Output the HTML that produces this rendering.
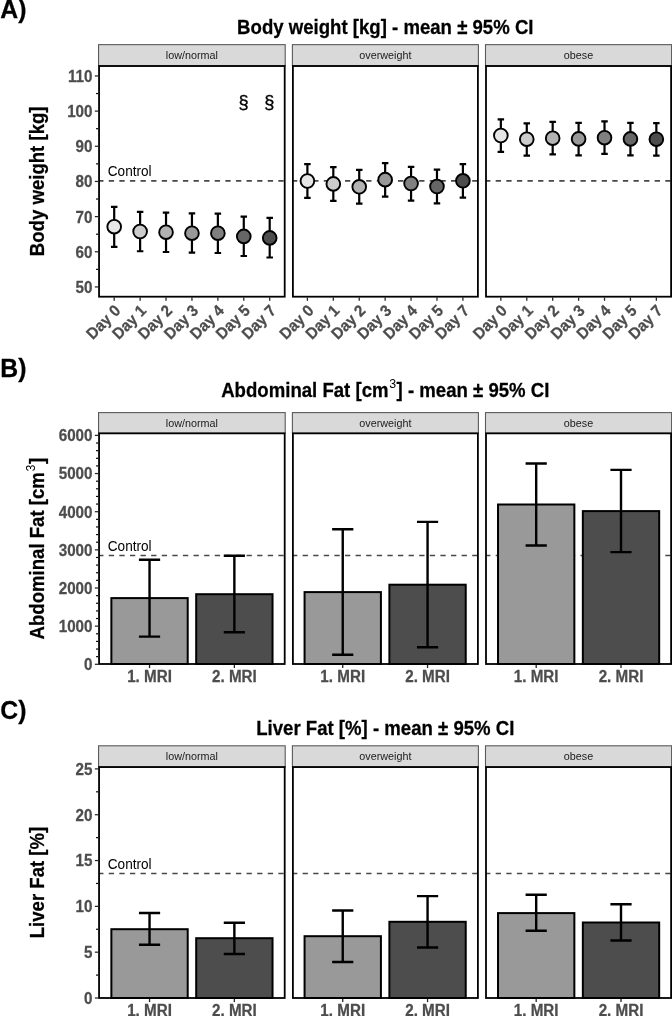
<!DOCTYPE html><html><head><meta charset="utf-8"><title>plot</title><style>html,body{margin:0;padding:0;background:#fff;overflow:hidden;}svg{display:block;font-family:"Liberation Sans", sans-serif;filter:grayscale(1);}</style></head><body>
<svg width="672" height="1016" viewBox="0 0 672 1016">
<rect width="672" height="1016" fill="#fff"/>
<text transform="translate(0.3 17.5) scale(1 1.04)" font-size="24.8" font-weight="bold" stroke="#000" stroke-width="0.25" fill="#000">A)</text>
<text transform="translate(385.3 33.5) scale(1 1.04)" font-size="18.6" font-weight="bold" stroke="#000" stroke-width="0.25" fill="#000" text-anchor="middle">Body weight [kg] - mean ± 95% CI</text>
<text transform="translate(44.3 181.35) rotate(-90) scale(1 1.04)" font-size="18.6" font-weight="bold" stroke="#000" stroke-width="0.25" fill="#000" text-anchor="middle">Body weight [kg]</text>
<rect x="98.55" y="44.65" width="186.65" height="21.35" fill="#d9d9d9" stroke="#5a5a5a" stroke-width="1.1"/>
<text transform="translate(191.88 59.05) scale(1 1.04)" font-size="10.8" fill="#1a1a1a" text-anchor="middle">low/normal</text>
<rect x="292.4" y="44.65" width="186" height="21.35" fill="#d9d9d9" stroke="#5a5a5a" stroke-width="1.1"/>
<text transform="translate(385.4 59.05) scale(1 1.04)" font-size="10.8" fill="#1a1a1a" text-anchor="middle">overweight</text>
<rect x="485.5" y="44.65" width="186.1" height="21.35" fill="#d9d9d9" stroke="#5a5a5a" stroke-width="1.1"/>
<text transform="translate(578.55 59.05) scale(1 1.04)" font-size="10.8" fill="#1a1a1a" text-anchor="middle">obese</text>
<line x1="99.05" y1="180.9" x2="284.7" y2="180.9" stroke="#484848" stroke-width="1.6" stroke-dasharray="5.3 5.3" stroke-dashoffset="0.9"/>
<line x1="292.9" y1="180.9" x2="477.9" y2="180.9" stroke="#484848" stroke-width="1.6" stroke-dasharray="5.3 5.3" stroke-dashoffset="0.9"/>
<line x1="486" y1="180.9" x2="671.1" y2="180.9" stroke="#484848" stroke-width="1.6" stroke-dasharray="5.3 5.3" stroke-dashoffset="0.9"/>
<text transform="translate(107.8 176.2) scale(1 1.04)" font-size="13.6" fill="#000">Control</text>
<line x1="94.85" y1="286.95" x2="98.15" y2="286.95" stroke="#262626" stroke-width="1.25"/>
<text transform="translate(92.5 292.85) scale(1 1.04)" font-size="15.2" font-weight="bold" stroke="#4d4d4d" stroke-width="0.25" fill="#4d4d4d" text-anchor="end">50</text>
<line x1="94.85" y1="251.79" x2="98.15" y2="251.79" stroke="#262626" stroke-width="1.25"/>
<text transform="translate(92.5 257.69) scale(1 1.04)" font-size="15.2" font-weight="bold" stroke="#4d4d4d" stroke-width="0.25" fill="#4d4d4d" text-anchor="end">60</text>
<line x1="94.85" y1="216.62" x2="98.15" y2="216.62" stroke="#262626" stroke-width="1.25"/>
<text transform="translate(92.5 222.52) scale(1 1.04)" font-size="15.2" font-weight="bold" stroke="#4d4d4d" stroke-width="0.25" fill="#4d4d4d" text-anchor="end">70</text>
<line x1="94.85" y1="181.45" x2="98.15" y2="181.45" stroke="#262626" stroke-width="1.25"/>
<text transform="translate(92.5 187.35) scale(1 1.04)" font-size="15.2" font-weight="bold" stroke="#4d4d4d" stroke-width="0.25" fill="#4d4d4d" text-anchor="end">80</text>
<line x1="94.85" y1="146.28" x2="98.15" y2="146.28" stroke="#262626" stroke-width="1.25"/>
<text transform="translate(92.5 152.18) scale(1 1.04)" font-size="15.2" font-weight="bold" stroke="#4d4d4d" stroke-width="0.25" fill="#4d4d4d" text-anchor="end">90</text>
<line x1="94.85" y1="111.12" x2="98.15" y2="111.12" stroke="#262626" stroke-width="1.25"/>
<text transform="translate(92.5 117.02) scale(1 1.04)" font-size="15.2" font-weight="bold" stroke="#4d4d4d" stroke-width="0.25" fill="#4d4d4d" text-anchor="end">100</text>
<line x1="94.85" y1="75.95" x2="98.15" y2="75.95" stroke="#262626" stroke-width="1.25"/>
<text transform="translate(92.5 81.85) scale(1 1.04)" font-size="15.2" font-weight="bold" stroke="#4d4d4d" stroke-width="0.25" fill="#4d4d4d" text-anchor="end">110</text>
<line x1="96.05" y1="269.37" x2="98.15" y2="269.37" stroke="#000" stroke-width="1.2"/>
<line x1="96.05" y1="234.2" x2="98.15" y2="234.2" stroke="#000" stroke-width="1.2"/>
<line x1="96.05" y1="199.03" x2="98.15" y2="199.03" stroke="#000" stroke-width="1.2"/>
<line x1="96.05" y1="163.87" x2="98.15" y2="163.87" stroke="#000" stroke-width="1.2"/>
<line x1="96.05" y1="128.7" x2="98.15" y2="128.7" stroke="#000" stroke-width="1.2"/>
<line x1="96.05" y1="93.53" x2="98.15" y2="93.53" stroke="#000" stroke-width="1.2"/>
<path d="M114.2 206.9V246.8M110.96 206.9H117.44M110.96 246.8H117.44" stroke="#000" stroke-width="2.2" fill="none"/>
<circle cx="114.2" cy="226.7" r="6.85" fill="#e6e6e6" stroke="#000" stroke-width="1.9"/>
<line x1="114.2" y1="297.6" x2="114.2" y2="300.8" stroke="#262626" stroke-width="1.3"/>
<text transform="translate(113.3 303.5) rotate(-45) scale(1 1.05)" font-size="15.2" font-weight="bold" stroke="#4d4d4d" stroke-width="0.25" fill="#4d4d4d" text-anchor="end" dy="0.72em">Day 0</text>
<path d="M140.12 211.8V251.25M136.88 211.8H143.36M136.88 251.25H143.36" stroke="#000" stroke-width="2.2" fill="none"/>
<circle cx="140.12" cy="231.5" r="6.85" fill="#cccccc" stroke="#000" stroke-width="1.9"/>
<line x1="140.12" y1="297.6" x2="140.12" y2="300.8" stroke="#262626" stroke-width="1.3"/>
<text transform="translate(139.22 303.5) rotate(-45) scale(1 1.05)" font-size="15.2" font-weight="bold" stroke="#4d4d4d" stroke-width="0.25" fill="#4d4d4d" text-anchor="end" dy="0.72em">Day 1</text>
<path d="M166.03 212.6V252M162.79 212.6H169.27M162.79 252H169.27" stroke="#000" stroke-width="2.2" fill="none"/>
<circle cx="166.03" cy="232.2" r="6.85" fill="#b3b3b3" stroke="#000" stroke-width="1.9"/>
<line x1="166.03" y1="297.6" x2="166.03" y2="300.8" stroke="#262626" stroke-width="1.3"/>
<text transform="translate(165.13 303.5) rotate(-45) scale(1 1.05)" font-size="15.2" font-weight="bold" stroke="#4d4d4d" stroke-width="0.25" fill="#4d4d4d" text-anchor="end" dy="0.72em">Day 2</text>
<path d="M191.95 213.3V252.7M188.71 213.3H195.19M188.71 252.7H195.19" stroke="#000" stroke-width="2.2" fill="none"/>
<circle cx="191.95" cy="233.2" r="6.85" fill="#999999" stroke="#000" stroke-width="1.9"/>
<line x1="191.95" y1="297.6" x2="191.95" y2="300.8" stroke="#262626" stroke-width="1.3"/>
<text transform="translate(191.05 303.5) rotate(-45) scale(1 1.05)" font-size="15.2" font-weight="bold" stroke="#4d4d4d" stroke-width="0.25" fill="#4d4d4d" text-anchor="end" dy="0.72em">Day 3</text>
<path d="M217.87 213.6V253M214.63 213.6H221.11M214.63 253H221.11" stroke="#000" stroke-width="2.2" fill="none"/>
<circle cx="217.87" cy="233.2" r="6.85" fill="#808080" stroke="#000" stroke-width="1.9"/>
<line x1="217.87" y1="297.6" x2="217.87" y2="300.8" stroke="#262626" stroke-width="1.3"/>
<text transform="translate(216.97 303.5) rotate(-45) scale(1 1.05)" font-size="15.2" font-weight="bold" stroke="#4d4d4d" stroke-width="0.25" fill="#4d4d4d" text-anchor="end" dy="0.72em">Day 4</text>
<path d="M243.78 216.6V256M240.54 216.6H247.02M240.54 256H247.02" stroke="#000" stroke-width="2.2" fill="none"/>
<circle cx="243.78" cy="236.4" r="6.85" fill="#666666" stroke="#000" stroke-width="1.9"/>
<line x1="243.78" y1="297.6" x2="243.78" y2="300.8" stroke="#262626" stroke-width="1.3"/>
<text transform="translate(242.88 303.5) rotate(-45) scale(1 1.05)" font-size="15.2" font-weight="bold" stroke="#4d4d4d" stroke-width="0.25" fill="#4d4d4d" text-anchor="end" dy="0.72em">Day 5</text>
<path d="M269.7 217.8V257.5M266.46 217.8H272.94M266.46 257.5H272.94" stroke="#000" stroke-width="2.2" fill="none"/>
<circle cx="269.7" cy="237.9" r="6.85" fill="#4d4d4d" stroke="#000" stroke-width="1.9"/>
<line x1="269.7" y1="297.6" x2="269.7" y2="300.8" stroke="#262626" stroke-width="1.3"/>
<text transform="translate(268.8 303.5) rotate(-45) scale(1 1.05)" font-size="15.2" font-weight="bold" stroke="#4d4d4d" stroke-width="0.25" fill="#4d4d4d" text-anchor="end" dy="0.72em">Day 7</text>
<path d="M307.4 164.1V197.9M304.16 164.1H310.64M304.16 197.9H310.64" stroke="#000" stroke-width="2.2" fill="none"/>
<circle cx="307.4" cy="181" r="6.85" fill="#e6e6e6" stroke="#000" stroke-width="1.9"/>
<line x1="307.4" y1="297.6" x2="307.4" y2="300.8" stroke="#262626" stroke-width="1.3"/>
<text transform="translate(306.5 303.5) rotate(-45) scale(1 1.05)" font-size="15.2" font-weight="bold" stroke="#4d4d4d" stroke-width="0.25" fill="#4d4d4d" text-anchor="end" dy="0.72em">Day 0</text>
<path d="M333.32 167.1V200.9M330.08 167.1H336.56M330.08 200.9H336.56" stroke="#000" stroke-width="2.2" fill="none"/>
<circle cx="333.32" cy="183.9" r="6.85" fill="#cccccc" stroke="#000" stroke-width="1.9"/>
<line x1="333.32" y1="297.6" x2="333.32" y2="300.8" stroke="#262626" stroke-width="1.3"/>
<text transform="translate(332.42 303.5) rotate(-45) scale(1 1.05)" font-size="15.2" font-weight="bold" stroke="#4d4d4d" stroke-width="0.25" fill="#4d4d4d" text-anchor="end" dy="0.72em">Day 1</text>
<path d="M359.23 169.8V203.6M355.99 169.8H362.47M355.99 203.6H362.47" stroke="#000" stroke-width="2.2" fill="none"/>
<circle cx="359.23" cy="186.8" r="6.85" fill="#b3b3b3" stroke="#000" stroke-width="1.9"/>
<line x1="359.23" y1="297.6" x2="359.23" y2="300.8" stroke="#262626" stroke-width="1.3"/>
<text transform="translate(358.33 303.5) rotate(-45) scale(1 1.05)" font-size="15.2" font-weight="bold" stroke="#4d4d4d" stroke-width="0.25" fill="#4d4d4d" text-anchor="end" dy="0.72em">Day 2</text>
<path d="M385.15 163.1V196.6M381.91 163.1H388.39M381.91 196.6H388.39" stroke="#000" stroke-width="2.2" fill="none"/>
<circle cx="385.15" cy="179.65" r="6.85" fill="#999999" stroke="#000" stroke-width="1.9"/>
<line x1="385.15" y1="297.6" x2="385.15" y2="300.8" stroke="#262626" stroke-width="1.3"/>
<text transform="translate(384.25 303.5) rotate(-45) scale(1 1.05)" font-size="15.2" font-weight="bold" stroke="#4d4d4d" stroke-width="0.25" fill="#4d4d4d" text-anchor="end" dy="0.72em">Day 3</text>
<path d="M411.07 166.8V200.6M407.83 166.8H414.31M407.83 200.6H414.31" stroke="#000" stroke-width="2.2" fill="none"/>
<circle cx="411.07" cy="183.5" r="6.85" fill="#808080" stroke="#000" stroke-width="1.9"/>
<line x1="411.07" y1="297.6" x2="411.07" y2="300.8" stroke="#262626" stroke-width="1.3"/>
<text transform="translate(410.17 303.5) rotate(-45) scale(1 1.05)" font-size="15.2" font-weight="bold" stroke="#4d4d4d" stroke-width="0.25" fill="#4d4d4d" text-anchor="end" dy="0.72em">Day 4</text>
<path d="M436.98 169.6V203.3M433.74 169.6H440.22M433.74 203.3H440.22" stroke="#000" stroke-width="2.2" fill="none"/>
<circle cx="436.98" cy="186.5" r="6.85" fill="#666666" stroke="#000" stroke-width="1.9"/>
<line x1="436.98" y1="297.6" x2="436.98" y2="300.8" stroke="#262626" stroke-width="1.3"/>
<text transform="translate(436.08 303.5) rotate(-45) scale(1 1.05)" font-size="15.2" font-weight="bold" stroke="#4d4d4d" stroke-width="0.25" fill="#4d4d4d" text-anchor="end" dy="0.72em">Day 5</text>
<path d="M462.9 164.1V197.6M459.66 164.1H466.14M459.66 197.6H466.14" stroke="#000" stroke-width="2.2" fill="none"/>
<circle cx="462.9" cy="180.8" r="6.85" fill="#4d4d4d" stroke="#000" stroke-width="1.9"/>
<line x1="462.9" y1="297.6" x2="462.9" y2="300.8" stroke="#262626" stroke-width="1.3"/>
<text transform="translate(462 303.5) rotate(-45) scale(1 1.05)" font-size="15.2" font-weight="bold" stroke="#4d4d4d" stroke-width="0.25" fill="#4d4d4d" text-anchor="end" dy="0.72em">Day 7</text>
<path d="M500.85 119.4V151.9M497.61 119.4H504.09M497.61 151.9H504.09" stroke="#000" stroke-width="2.2" fill="none"/>
<circle cx="500.85" cy="135.5" r="6.85" fill="#e6e6e6" stroke="#000" stroke-width="1.9"/>
<line x1="500.85" y1="297.6" x2="500.85" y2="300.8" stroke="#262626" stroke-width="1.3"/>
<text transform="translate(499.95 303.5) rotate(-45) scale(1 1.05)" font-size="15.2" font-weight="bold" stroke="#4d4d4d" stroke-width="0.25" fill="#4d4d4d" text-anchor="end" dy="0.72em">Day 0</text>
<path d="M526.77 123.3V155.6M523.53 123.3H530.01M523.53 155.6H530.01" stroke="#000" stroke-width="2.2" fill="none"/>
<circle cx="526.77" cy="139.2" r="6.85" fill="#cccccc" stroke="#000" stroke-width="1.9"/>
<line x1="526.77" y1="297.6" x2="526.77" y2="300.8" stroke="#262626" stroke-width="1.3"/>
<text transform="translate(525.87 303.5) rotate(-45) scale(1 1.05)" font-size="15.2" font-weight="bold" stroke="#4d4d4d" stroke-width="0.25" fill="#4d4d4d" text-anchor="end" dy="0.72em">Day 1</text>
<path d="M552.68 121.8V154.4M549.44 121.8H555.92M549.44 154.4H555.92" stroke="#000" stroke-width="2.2" fill="none"/>
<circle cx="552.68" cy="138.2" r="6.85" fill="#b3b3b3" stroke="#000" stroke-width="1.9"/>
<line x1="552.68" y1="297.6" x2="552.68" y2="300.8" stroke="#262626" stroke-width="1.3"/>
<text transform="translate(551.78 303.5) rotate(-45) scale(1 1.05)" font-size="15.2" font-weight="bold" stroke="#4d4d4d" stroke-width="0.25" fill="#4d4d4d" text-anchor="end" dy="0.72em">Day 2</text>
<path d="M578.6 122.9V155.3M575.36 122.9H581.84M575.36 155.3H581.84" stroke="#000" stroke-width="2.2" fill="none"/>
<circle cx="578.6" cy="138.9" r="6.85" fill="#999999" stroke="#000" stroke-width="1.9"/>
<line x1="578.6" y1="297.6" x2="578.6" y2="300.8" stroke="#262626" stroke-width="1.3"/>
<text transform="translate(577.7 303.5) rotate(-45) scale(1 1.05)" font-size="15.2" font-weight="bold" stroke="#4d4d4d" stroke-width="0.25" fill="#4d4d4d" text-anchor="end" dy="0.72em">Day 3</text>
<path d="M604.52 121.4V153.8M601.28 121.4H607.76M601.28 153.8H607.76" stroke="#000" stroke-width="2.2" fill="none"/>
<circle cx="604.52" cy="137.7" r="6.85" fill="#808080" stroke="#000" stroke-width="1.9"/>
<line x1="604.52" y1="297.6" x2="604.52" y2="300.8" stroke="#262626" stroke-width="1.3"/>
<text transform="translate(603.62 303.5) rotate(-45) scale(1 1.05)" font-size="15.2" font-weight="bold" stroke="#4d4d4d" stroke-width="0.25" fill="#4d4d4d" text-anchor="end" dy="0.72em">Day 4</text>
<path d="M630.43 122.9V155.3M627.19 122.9H633.67M627.19 155.3H633.67" stroke="#000" stroke-width="2.2" fill="none"/>
<circle cx="630.43" cy="138.9" r="6.85" fill="#666666" stroke="#000" stroke-width="1.9"/>
<line x1="630.43" y1="297.6" x2="630.43" y2="300.8" stroke="#262626" stroke-width="1.3"/>
<text transform="translate(629.53 303.5) rotate(-45) scale(1 1.05)" font-size="15.2" font-weight="bold" stroke="#4d4d4d" stroke-width="0.25" fill="#4d4d4d" text-anchor="end" dy="0.72em">Day 5</text>
<path d="M656.35 123.2V155.6M653.11 123.2H659.59M653.11 155.6H659.59" stroke="#000" stroke-width="2.2" fill="none"/>
<circle cx="656.35" cy="139.2" r="6.85" fill="#4d4d4d" stroke="#000" stroke-width="1.9"/>
<line x1="656.35" y1="297.6" x2="656.35" y2="300.8" stroke="#262626" stroke-width="1.3"/>
<text transform="translate(655.45 303.5) rotate(-45) scale(1 1.05)" font-size="15.2" font-weight="bold" stroke="#4d4d4d" stroke-width="0.25" fill="#4d4d4d" text-anchor="end" dy="0.72em">Day 7</text>
<text transform="translate(243.48 108.1) scale(1 1.04)" font-size="18.2" fill="#000" text-anchor="middle" stroke="#000" stroke-width="0.35">§</text>
<text transform="translate(269.4 108.1) scale(1 1.04)" font-size="18.2" fill="#000" text-anchor="middle" stroke="#000" stroke-width="0.35">§</text>
<rect x="99.05" y="66" width="185.65" height="230.7" fill="none" stroke="#000" stroke-width="1.8"/>
<rect x="292.9" y="66" width="185" height="230.7" fill="none" stroke="#000" stroke-width="1.8"/>
<rect x="486" y="66" width="185.1" height="230.7" fill="none" stroke="#000" stroke-width="1.8"/>
<text transform="translate(0.3 376.7) scale(1 1.04)" font-size="24.8" font-weight="bold" stroke="#000" stroke-width="0.25" fill="#000">B)</text>
<text transform="translate(385.3 397.3) scale(1 1.04)" font-size="18.6" font-weight="bold" stroke="#000" stroke-width="0.25" fill="#000" text-anchor="middle">Abdominal Fat [cm<tspan font-size="12.4" font-weight="normal" stroke="none" dx="0.6" dy="-9">3</tspan><tspan dx="0.6" dy="9">] - mean ± 95% CI</tspan></text>
<text transform="translate(44.3 548.67) rotate(-90) scale(1 1.04)" font-size="18.6" font-weight="bold" stroke="#000" stroke-width="0.25" fill="#000" text-anchor="middle">Abdominal Fat [cm<tspan font-size="12.4" font-weight="normal" stroke="none" dx="0.6" dy="-9">3</tspan><tspan dx="0.6" dy="9">]</tspan></text>
<rect x="98.55" y="412.6" width="186.65" height="20.75" fill="#d9d9d9" stroke="#5a5a5a" stroke-width="1.1"/>
<text transform="translate(191.88 427) scale(1 1.04)" font-size="10.8" fill="#1a1a1a" text-anchor="middle">low/normal</text>
<rect x="292.4" y="412.6" width="186" height="20.75" fill="#d9d9d9" stroke="#5a5a5a" stroke-width="1.1"/>
<text transform="translate(385.4 427) scale(1 1.04)" font-size="10.8" fill="#1a1a1a" text-anchor="middle">overweight</text>
<rect x="485.5" y="412.6" width="186.1" height="20.75" fill="#d9d9d9" stroke="#5a5a5a" stroke-width="1.1"/>
<text transform="translate(578.55 427) scale(1 1.04)" font-size="10.8" fill="#1a1a1a" text-anchor="middle">obese</text>
<line x1="99.05" y1="555.5" x2="284.7" y2="555.5" stroke="#484848" stroke-width="1.6" stroke-dasharray="5.3 5.3" stroke-dashoffset="0.9"/>
<line x1="292.9" y1="555.5" x2="477.9" y2="555.5" stroke="#484848" stroke-width="1.6" stroke-dasharray="5.3 5.3" stroke-dashoffset="0.9"/>
<line x1="486" y1="555.5" x2="671.1" y2="555.5" stroke="#484848" stroke-width="1.6" stroke-dasharray="5.3 5.3" stroke-dashoffset="0.9"/>
<text transform="translate(107.8 550.8) scale(1 1.04)" font-size="13.6" fill="#000">Control</text>
<line x1="94.85" y1="664.3" x2="98.15" y2="664.3" stroke="#262626" stroke-width="1.25"/>
<text transform="translate(92.5 670.2) scale(1 1.04)" font-size="15.2" font-weight="bold" stroke="#4d4d4d" stroke-width="0.25" fill="#4d4d4d" text-anchor="end">0</text>
<line x1="94.85" y1="626.15" x2="98.15" y2="626.15" stroke="#262626" stroke-width="1.25"/>
<text transform="translate(92.5 632.05) scale(1 1.04)" font-size="15.2" font-weight="bold" stroke="#4d4d4d" stroke-width="0.25" fill="#4d4d4d" text-anchor="end">1000</text>
<line x1="94.85" y1="588" x2="98.15" y2="588" stroke="#262626" stroke-width="1.25"/>
<text transform="translate(92.5 593.9) scale(1 1.04)" font-size="15.2" font-weight="bold" stroke="#4d4d4d" stroke-width="0.25" fill="#4d4d4d" text-anchor="end">2000</text>
<line x1="94.85" y1="549.85" x2="98.15" y2="549.85" stroke="#262626" stroke-width="1.25"/>
<text transform="translate(92.5 555.75) scale(1 1.04)" font-size="15.2" font-weight="bold" stroke="#4d4d4d" stroke-width="0.25" fill="#4d4d4d" text-anchor="end">3000</text>
<line x1="94.85" y1="511.7" x2="98.15" y2="511.7" stroke="#262626" stroke-width="1.25"/>
<text transform="translate(92.5 517.6) scale(1 1.04)" font-size="15.2" font-weight="bold" stroke="#4d4d4d" stroke-width="0.25" fill="#4d4d4d" text-anchor="end">4000</text>
<line x1="94.85" y1="473.55" x2="98.15" y2="473.55" stroke="#262626" stroke-width="1.25"/>
<text transform="translate(92.5 479.45) scale(1 1.04)" font-size="15.2" font-weight="bold" stroke="#4d4d4d" stroke-width="0.25" fill="#4d4d4d" text-anchor="end">5000</text>
<line x1="94.85" y1="435.4" x2="98.15" y2="435.4" stroke="#262626" stroke-width="1.25"/>
<text transform="translate(92.5 441.3) scale(1 1.04)" font-size="15.2" font-weight="bold" stroke="#4d4d4d" stroke-width="0.25" fill="#4d4d4d" text-anchor="end">6000</text>
<line x1="96.05" y1="656.67" x2="98.15" y2="656.67" stroke="#000" stroke-width="1.2"/>
<line x1="96.05" y1="649.04" x2="98.15" y2="649.04" stroke="#000" stroke-width="1.2"/>
<line x1="96.05" y1="641.41" x2="98.15" y2="641.41" stroke="#000" stroke-width="1.2"/>
<line x1="96.05" y1="633.78" x2="98.15" y2="633.78" stroke="#000" stroke-width="1.2"/>
<line x1="96.05" y1="618.52" x2="98.15" y2="618.52" stroke="#000" stroke-width="1.2"/>
<line x1="96.05" y1="610.89" x2="98.15" y2="610.89" stroke="#000" stroke-width="1.2"/>
<line x1="96.05" y1="603.26" x2="98.15" y2="603.26" stroke="#000" stroke-width="1.2"/>
<line x1="96.05" y1="595.63" x2="98.15" y2="595.63" stroke="#000" stroke-width="1.2"/>
<line x1="96.05" y1="580.37" x2="98.15" y2="580.37" stroke="#000" stroke-width="1.2"/>
<line x1="96.05" y1="572.74" x2="98.15" y2="572.74" stroke="#000" stroke-width="1.2"/>
<line x1="96.05" y1="565.11" x2="98.15" y2="565.11" stroke="#000" stroke-width="1.2"/>
<line x1="96.05" y1="557.48" x2="98.15" y2="557.48" stroke="#000" stroke-width="1.2"/>
<line x1="96.05" y1="542.22" x2="98.15" y2="542.22" stroke="#000" stroke-width="1.2"/>
<line x1="96.05" y1="534.59" x2="98.15" y2="534.59" stroke="#000" stroke-width="1.2"/>
<line x1="96.05" y1="526.96" x2="98.15" y2="526.96" stroke="#000" stroke-width="1.2"/>
<line x1="96.05" y1="519.33" x2="98.15" y2="519.33" stroke="#000" stroke-width="1.2"/>
<line x1="96.05" y1="504.07" x2="98.15" y2="504.07" stroke="#000" stroke-width="1.2"/>
<line x1="96.05" y1="496.44" x2="98.15" y2="496.44" stroke="#000" stroke-width="1.2"/>
<line x1="96.05" y1="488.81" x2="98.15" y2="488.81" stroke="#000" stroke-width="1.2"/>
<line x1="96.05" y1="481.18" x2="98.15" y2="481.18" stroke="#000" stroke-width="1.2"/>
<line x1="96.05" y1="465.92" x2="98.15" y2="465.92" stroke="#000" stroke-width="1.2"/>
<line x1="96.05" y1="458.29" x2="98.15" y2="458.29" stroke="#000" stroke-width="1.2"/>
<line x1="96.05" y1="450.66" x2="98.15" y2="450.66" stroke="#000" stroke-width="1.2"/>
<line x1="96.05" y1="443.03" x2="98.15" y2="443.03" stroke="#000" stroke-width="1.2"/>
<rect x="111.37" y="598.1" width="76.34" height="65.9" fill="#999999" stroke="#000" stroke-width="2"/>
<path d="M149.54 559.7V636.6M138.94 559.7H160.14M138.94 636.6H160.14" stroke="#000" stroke-width="2.4" fill="none"/>
<line x1="149.54" y1="664.9" x2="149.54" y2="668.1" stroke="#262626" stroke-width="1.3"/>
<text transform="translate(149.54 681.9) scale(1 1.04)" font-size="15.2" font-weight="bold" stroke="#4d4d4d" stroke-width="0.25" fill="#4d4d4d" text-anchor="middle">1. MRI</text>
<rect x="196.19" y="594.2" width="76.34" height="69.8" fill="#4d4d4d" stroke="#000" stroke-width="2"/>
<path d="M234.36 555.7V632.3M223.76 555.7H244.96M223.76 632.3H244.96" stroke="#000" stroke-width="2.4" fill="none"/>
<line x1="234.36" y1="664.9" x2="234.36" y2="668.1" stroke="#262626" stroke-width="1.3"/>
<text transform="translate(234.36 681.9) scale(1 1.04)" font-size="15.2" font-weight="bold" stroke="#4d4d4d" stroke-width="0.25" fill="#4d4d4d" text-anchor="middle">2. MRI</text>
<rect x="304.57" y="592.1" width="76.34" height="71.9" fill="#999999" stroke="#000" stroke-width="2"/>
<path d="M342.74 529.3V654.8M332.14 529.3H353.34M332.14 654.8H353.34" stroke="#000" stroke-width="2.4" fill="none"/>
<line x1="342.74" y1="664.9" x2="342.74" y2="668.1" stroke="#262626" stroke-width="1.3"/>
<text transform="translate(342.74 681.9) scale(1 1.04)" font-size="15.2" font-weight="bold" stroke="#4d4d4d" stroke-width="0.25" fill="#4d4d4d" text-anchor="middle">1. MRI</text>
<rect x="389.39" y="584.7" width="76.34" height="79.3" fill="#4d4d4d" stroke="#000" stroke-width="2"/>
<path d="M427.56 521.9V647.2M416.96 521.9H438.16M416.96 647.2H438.16" stroke="#000" stroke-width="2.4" fill="none"/>
<line x1="427.56" y1="664.9" x2="427.56" y2="668.1" stroke="#262626" stroke-width="1.3"/>
<text transform="translate(427.56 681.9) scale(1 1.04)" font-size="15.2" font-weight="bold" stroke="#4d4d4d" stroke-width="0.25" fill="#4d4d4d" text-anchor="middle">2. MRI</text>
<rect x="498.02" y="504.5" width="76.34" height="159.5" fill="#999999" stroke="#000" stroke-width="2"/>
<path d="M536.19 463.5V545.5M525.59 463.5H546.79M525.59 545.5H546.79" stroke="#000" stroke-width="2.4" fill="none"/>
<line x1="536.19" y1="664.9" x2="536.19" y2="668.1" stroke="#262626" stroke-width="1.3"/>
<text transform="translate(536.19 681.9) scale(1 1.04)" font-size="15.2" font-weight="bold" stroke="#4d4d4d" stroke-width="0.25" fill="#4d4d4d" text-anchor="middle">1. MRI</text>
<rect x="582.84" y="511.1" width="76.34" height="152.9" fill="#4d4d4d" stroke="#000" stroke-width="2"/>
<path d="M621.01 469.9V552.1M610.41 469.9H631.61M610.41 552.1H631.61" stroke="#000" stroke-width="2.4" fill="none"/>
<line x1="621.01" y1="664.9" x2="621.01" y2="668.1" stroke="#262626" stroke-width="1.3"/>
<text transform="translate(621.01 681.9) scale(1 1.04)" font-size="15.2" font-weight="bold" stroke="#4d4d4d" stroke-width="0.25" fill="#4d4d4d" text-anchor="middle">2. MRI</text>
<rect x="99.05" y="433.35" width="185.65" height="230.65" fill="none" stroke="#000" stroke-width="1.8"/>
<rect x="292.9" y="433.35" width="185" height="230.65" fill="none" stroke="#000" stroke-width="1.8"/>
<rect x="486" y="433.35" width="185.1" height="230.65" fill="none" stroke="#000" stroke-width="1.8"/>
<text transform="translate(0.3 719) scale(1 1.04)" font-size="24.8" font-weight="bold" stroke="#000" stroke-width="0.25" fill="#000">C)</text>
<text transform="translate(385.3 734.9) scale(1 1.04)" font-size="18.6" font-weight="bold" stroke="#000" stroke-width="0.25" fill="#000" text-anchor="middle">Liver Fat [%] - mean ± 95% CI</text>
<text transform="translate(44.3 882.52) rotate(-90) scale(1 1.04)" font-size="18.6" font-weight="bold" stroke="#000" stroke-width="0.25" fill="#000" text-anchor="middle">Liver Fat [%]</text>
<rect x="98.55" y="745.8" width="186.65" height="21.25" fill="#d9d9d9" stroke="#5a5a5a" stroke-width="1.1"/>
<text transform="translate(191.88 760.2) scale(1 1.04)" font-size="10.8" fill="#1a1a1a" text-anchor="middle">low/normal</text>
<rect x="292.4" y="745.8" width="186" height="21.25" fill="#d9d9d9" stroke="#5a5a5a" stroke-width="1.1"/>
<text transform="translate(385.4 760.2) scale(1 1.04)" font-size="10.8" fill="#1a1a1a" text-anchor="middle">overweight</text>
<rect x="485.5" y="745.8" width="186.1" height="21.25" fill="#d9d9d9" stroke="#5a5a5a" stroke-width="1.1"/>
<text transform="translate(578.55 760.2) scale(1 1.04)" font-size="10.8" fill="#1a1a1a" text-anchor="middle">obese</text>
<line x1="99.05" y1="873.5" x2="284.7" y2="873.5" stroke="#484848" stroke-width="1.6" stroke-dasharray="5.3 5.3" stroke-dashoffset="0.9"/>
<line x1="292.9" y1="873.5" x2="477.9" y2="873.5" stroke="#484848" stroke-width="1.6" stroke-dasharray="5.3 5.3" stroke-dashoffset="0.9"/>
<line x1="486" y1="873.5" x2="671.1" y2="873.5" stroke="#484848" stroke-width="1.6" stroke-dasharray="5.3 5.3" stroke-dashoffset="0.9"/>
<text transform="translate(107.8 868.8) scale(1 1.04)" font-size="13.6" fill="#000">Control</text>
<line x1="94.85" y1="998" x2="98.15" y2="998" stroke="#262626" stroke-width="1.25"/>
<text transform="translate(92.5 1003.9) scale(1 1.04)" font-size="15.2" font-weight="bold" stroke="#4d4d4d" stroke-width="0.25" fill="#4d4d4d" text-anchor="end">0</text>
<line x1="94.85" y1="952.18" x2="98.15" y2="952.18" stroke="#262626" stroke-width="1.25"/>
<text transform="translate(92.5 958.08) scale(1 1.04)" font-size="15.2" font-weight="bold" stroke="#4d4d4d" stroke-width="0.25" fill="#4d4d4d" text-anchor="end">5</text>
<line x1="94.85" y1="906.36" x2="98.15" y2="906.36" stroke="#262626" stroke-width="1.25"/>
<text transform="translate(92.5 912.26) scale(1 1.04)" font-size="15.2" font-weight="bold" stroke="#4d4d4d" stroke-width="0.25" fill="#4d4d4d" text-anchor="end">10</text>
<line x1="94.85" y1="860.54" x2="98.15" y2="860.54" stroke="#262626" stroke-width="1.25"/>
<text transform="translate(92.5 866.44) scale(1 1.04)" font-size="15.2" font-weight="bold" stroke="#4d4d4d" stroke-width="0.25" fill="#4d4d4d" text-anchor="end">15</text>
<line x1="94.85" y1="814.72" x2="98.15" y2="814.72" stroke="#262626" stroke-width="1.25"/>
<text transform="translate(92.5 820.62) scale(1 1.04)" font-size="15.2" font-weight="bold" stroke="#4d4d4d" stroke-width="0.25" fill="#4d4d4d" text-anchor="end">20</text>
<line x1="94.85" y1="768.9" x2="98.15" y2="768.9" stroke="#262626" stroke-width="1.25"/>
<text transform="translate(92.5 774.8) scale(1 1.04)" font-size="15.2" font-weight="bold" stroke="#4d4d4d" stroke-width="0.25" fill="#4d4d4d" text-anchor="end">25</text>
<line x1="96.05" y1="975.09" x2="98.15" y2="975.09" stroke="#000" stroke-width="1.2"/>
<line x1="96.05" y1="929.27" x2="98.15" y2="929.27" stroke="#000" stroke-width="1.2"/>
<line x1="96.05" y1="883.45" x2="98.15" y2="883.45" stroke="#000" stroke-width="1.2"/>
<line x1="96.05" y1="837.63" x2="98.15" y2="837.63" stroke="#000" stroke-width="1.2"/>
<line x1="96.05" y1="791.81" x2="98.15" y2="791.81" stroke="#000" stroke-width="1.2"/>
<rect x="111.37" y="929.2" width="76.34" height="68.8" fill="#999999" stroke="#000" stroke-width="2"/>
<path d="M149.54 913V944.7M138.94 913H160.14M138.94 944.7H160.14" stroke="#000" stroke-width="2.4" fill="none"/>
<line x1="149.54" y1="998.9" x2="149.54" y2="1002.1" stroke="#262626" stroke-width="1.3"/>
<text transform="translate(149.54 1015.9) scale(1 1.04)" font-size="15.2" font-weight="bold" stroke="#4d4d4d" stroke-width="0.25" fill="#4d4d4d" text-anchor="middle">1. MRI</text>
<rect x="196.19" y="938.2" width="76.34" height="59.8" fill="#4d4d4d" stroke="#000" stroke-width="2"/>
<path d="M234.36 922.7V954M223.76 922.7H244.96M223.76 954H244.96" stroke="#000" stroke-width="2.4" fill="none"/>
<line x1="234.36" y1="998.9" x2="234.36" y2="1002.1" stroke="#262626" stroke-width="1.3"/>
<text transform="translate(234.36 1015.9) scale(1 1.04)" font-size="15.2" font-weight="bold" stroke="#4d4d4d" stroke-width="0.25" fill="#4d4d4d" text-anchor="middle">2. MRI</text>
<rect x="304.57" y="936.2" width="76.34" height="61.8" fill="#999999" stroke="#000" stroke-width="2"/>
<path d="M342.74 910.5V962M332.14 910.5H353.34M332.14 962H353.34" stroke="#000" stroke-width="2.4" fill="none"/>
<line x1="342.74" y1="998.9" x2="342.74" y2="1002.1" stroke="#262626" stroke-width="1.3"/>
<text transform="translate(342.74 1015.9) scale(1 1.04)" font-size="15.2" font-weight="bold" stroke="#4d4d4d" stroke-width="0.25" fill="#4d4d4d" text-anchor="middle">1. MRI</text>
<rect x="389.39" y="921.8" width="76.34" height="76.2" fill="#4d4d4d" stroke="#000" stroke-width="2"/>
<path d="M427.56 896.1V947.5M416.96 896.1H438.16M416.96 947.5H438.16" stroke="#000" stroke-width="2.4" fill="none"/>
<line x1="427.56" y1="998.9" x2="427.56" y2="1002.1" stroke="#262626" stroke-width="1.3"/>
<text transform="translate(427.56 1015.9) scale(1 1.04)" font-size="15.2" font-weight="bold" stroke="#4d4d4d" stroke-width="0.25" fill="#4d4d4d" text-anchor="middle">2. MRI</text>
<rect x="498.02" y="913.1" width="76.34" height="84.9" fill="#999999" stroke="#000" stroke-width="2"/>
<path d="M536.19 894.8V930.8M525.59 894.8H546.79M525.59 930.8H546.79" stroke="#000" stroke-width="2.4" fill="none"/>
<line x1="536.19" y1="998.9" x2="536.19" y2="1002.1" stroke="#262626" stroke-width="1.3"/>
<text transform="translate(536.19 1015.9) scale(1 1.04)" font-size="15.2" font-weight="bold" stroke="#4d4d4d" stroke-width="0.25" fill="#4d4d4d" text-anchor="middle">1. MRI</text>
<rect x="582.84" y="922.5" width="76.34" height="75.5" fill="#4d4d4d" stroke="#000" stroke-width="2"/>
<path d="M621.01 904.2V940.5M610.41 904.2H631.61M610.41 940.5H631.61" stroke="#000" stroke-width="2.4" fill="none"/>
<line x1="621.01" y1="998.9" x2="621.01" y2="1002.1" stroke="#262626" stroke-width="1.3"/>
<text transform="translate(621.01 1015.9) scale(1 1.04)" font-size="15.2" font-weight="bold" stroke="#4d4d4d" stroke-width="0.25" fill="#4d4d4d" text-anchor="middle">2. MRI</text>
<rect x="99.05" y="767.05" width="185.65" height="230.95" fill="none" stroke="#000" stroke-width="1.8"/>
<rect x="292.9" y="767.05" width="185" height="230.95" fill="none" stroke="#000" stroke-width="1.8"/>
<rect x="486" y="767.05" width="185.1" height="230.95" fill="none" stroke="#000" stroke-width="1.8"/>
</svg></body></html>
